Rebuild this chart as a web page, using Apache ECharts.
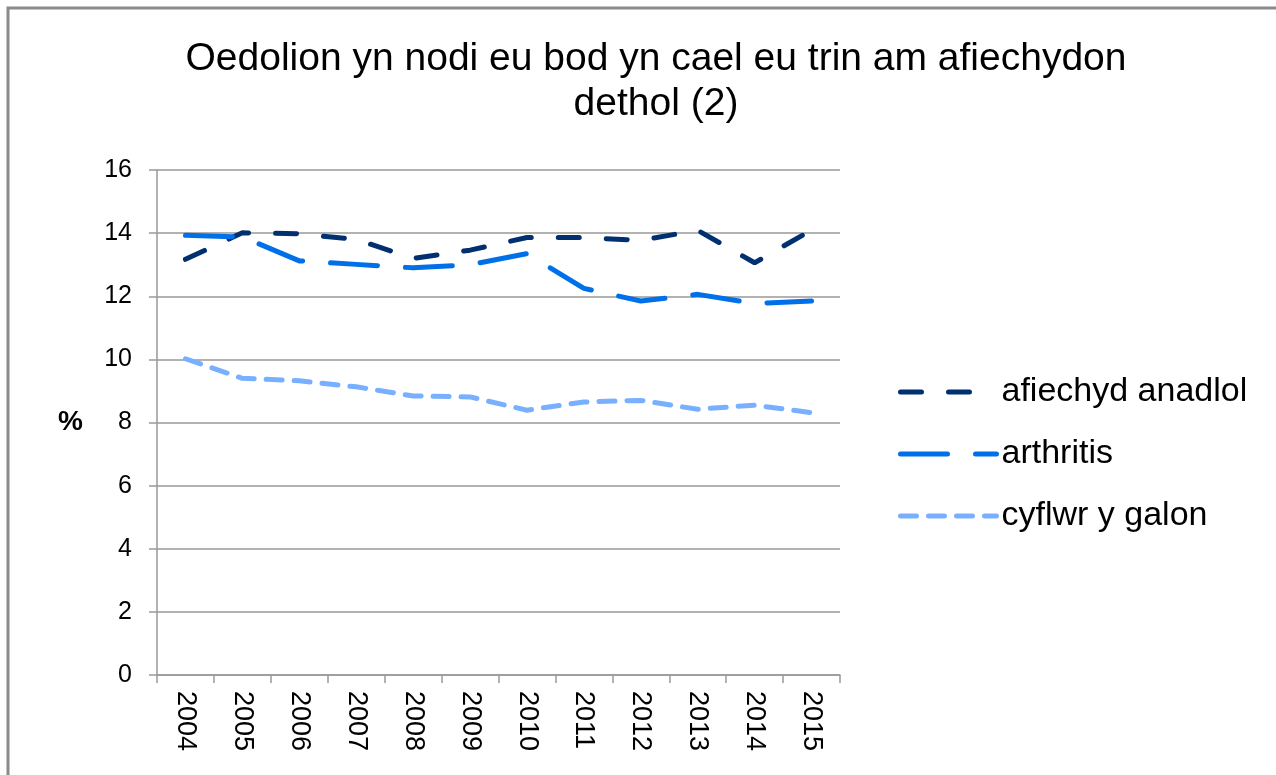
<!DOCTYPE html>
<html>
<head>
<meta charset="utf-8">
<script src="https://cdn.jsdelivr.net/npm/echarts@6/dist/echarts.min.js"></script>
<style>
  html, body { margin: 0; padding: 0; background: #fff; }
  #chart { width: 1276px; height: 775px; }
</style>
</head>
<body>
<div id="chart"></div>
<script>
  var years = ['2004', '2005', '2006', '2007', '2008', '2009', '2010', '2011', '2012', '2013', '2014', '2015'];
  var anadlol = [13.17, 14.01, 13.98, 13.8, 13.2, 13.46, 13.86, 13.86, 13.77, 14.09, 13.06, 14.1];
  var arthritis = [13.93, 13.88, 13.12, 13.01, 12.9, 13.0, 13.35, 12.25, 11.85, 12.06, 11.77, 11.85];
  var galon = [10.02, 9.4, 9.32, 9.13, 8.84, 8.81, 8.39, 8.65, 8.7, 8.42, 8.55, 8.31];
  var yTicks = [0, 2, 4, 6, 8, 10, 12, 14, 16];

  var chartDom = document.getElementById('chart');
  var myChart = echarts.init(chartDom, null, { renderer: 'canvas' });

  var fontName = '"Liberation Sans", Arial, sans-serif';

  var option = {
    animation: false,
    backgroundColor: '#fff',
    textStyle: { fontFamily: fontName },
    title: {
      text: 'Oedolion yn nodi eu bod yn cael eu trin am afiechydon\ndethol (2)',
      left: 651,
      top: 32,
      textAlign: 'center',
      textStyle: {
        fontFamily: fontName,
        fontSize: 39,
        fontWeight: 'normal',
        color: '#000',
        lineHeight: 45
      }
    },
    legend: {
      orient: 'vertical',
      left: 893,
      top: 370,
      itemWidth: 96,
      itemHeight: 40,
      itemGap: 28,
      itemStyle: { color: 'rgba(0,0,0,0)', borderWidth: 0 },
      lineStyle: { width: 5 },
      textStyle: { fontSize: 34, color: '#000', fontFamily: fontName, padding: [0, 0, 0, 0] },
      data: ['afiechyd anadlol', 'arthritis', 'cyflwr y galon']
    },
    graphic: [{
      type: 'rect',
      shape: { x: 8, y: 8, width: 1270, height: 800 },
      style: { fill: 'none', stroke: '#8a8a8a', lineWidth: 3 },
      silent: true
    }],
    grid: {
      left: 157,
      right: 436,
      top: 170,
      bottom: 100
    },
    xAxis: {
      type: 'category',
      data: years,
      boundaryGap: true,
      axisLine: { lineStyle: { color: '#999', width: 1.5 } },
      axisTick: { show: true, length: 8, lineStyle: { color: '#999', width: 1.5 } },
      axisLabel: {
        rotate: -90,
        margin: 16,
        fontSize: 27,
        color: '#000',
        fontFamily: fontName
      },
      splitLine: { show: false }
    },
    yAxis: {
      type: 'value',
      min: yTicks[0],
      max: yTicks[yTicks.length - 1],
      interval: 2,
      name: '%',
      nameLocation: 'middle',
      nameRotate: 0,
      nameGap: 74,
      nameTextStyle: { fontSize: 28, fontWeight: 'bold', color: '#000', fontFamily: fontName },
      axisLine: { show: true, lineStyle: { color: '#999', width: 1.5 } },
      axisTick: { show: true, length: 8, lineStyle: { color: '#999', width: 1.5 } },
      axisLabel: { margin: 25, fontSize: 25, color: '#000', fontFamily: fontName },
      splitLine: { lineStyle: { color: '#999', width: 1.5 } }
    },
    series: [
      {
        name: 'afiechyd anadlol',
        type: 'line',
        data: anadlol,
        symbol: 'none',
        color: '#003070',
        lineStyle: { width: 5, type: [21, 27], cap: 'round', color: '#003070' }
      },
      {
        name: 'arthritis',
        type: 'line',
        data: arthritis,
        symbol: 'none',
        color: '#0070e8',
        lineStyle: { width: 5, type: [47, 28], cap: 'round', color: '#0070e8' }
      },
      {
        name: 'cyflwr y galon',
        type: 'line',
        data: galon,
        symbol: 'none',
        color: '#78b0ff',
        lineStyle: { width: 5, type: [16, 12], cap: 'round', color: '#78b0ff' }
      }
    ]
  };

  myChart.setOption(option);
  window.addEventListener('resize', myChart.resize);
</script>
</body>
</html>
